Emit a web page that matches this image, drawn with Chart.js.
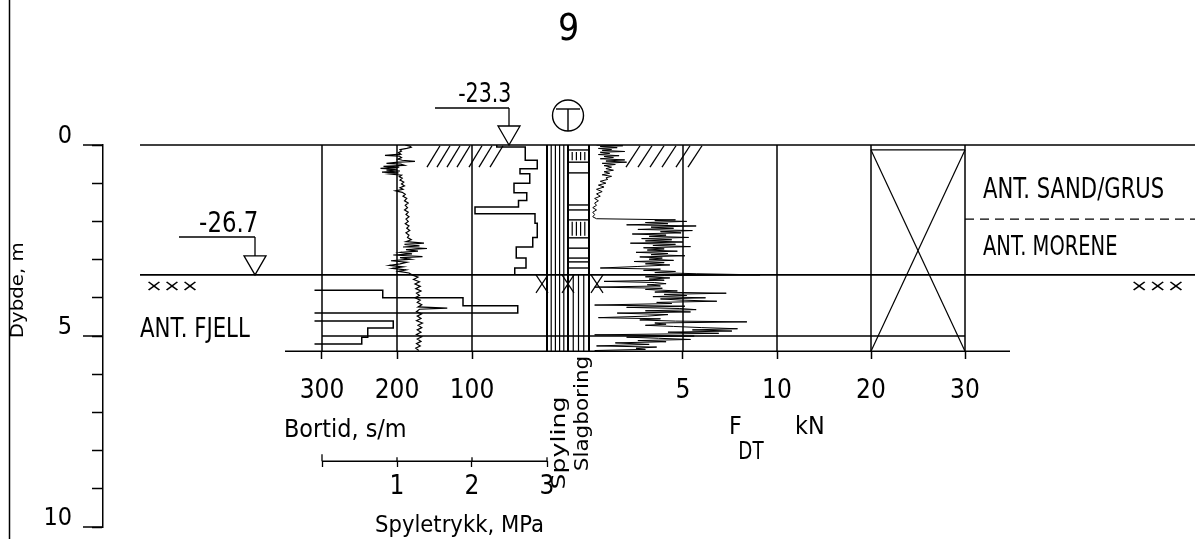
<!DOCTYPE html>
<html>
<head>
<meta charset="utf-8">
<script src="https://cdn.jsdelivr.net/npm/chart.js@4.4.1/dist/chart.umd.min.js"></script>
<style>
html,body{margin:0;padding:0;background:#fff;}
canvas{display:block;}
</style>
</head>
<body>
<canvas id="c" width="1195" height="539"></canvas>
<script>
// ---------------- DATA ----------------
const BORTID_TICKS = [300, 200, 100];
const SPYLE_TICKS = [0, 1, 2, 3];
const FDT_TICKS = [5, 10, 20, 30];
const DEPTH_TICKS = [0, 1, 2, 3, 4, 5, 6, 7, 8, 9, 10];
const DEPTH_LABELS = [0, 5, 10];

// Bortid (s/m), step log; null = break (off scale)
const bortidDepth = [0.00, 0.05, 0.40, 0.62, 0.75, 1.00, 1.25, 1.45, 1.62, 1.80, 2.05, 2.42, 2.67, 2.96, 3.22, 3.38,
                     null, 3.80, 3.80, 4.00, 4.21, 4.40, null, 4.61, 4.61, 4.79, 5.03, 5.21];
const bortidValue = [67, 29, 13, 36, 23, 44, 27, 38, 96, 16, 13, 19, 41, 28, 43, 43,
                     null, 310, 219, 112, 39, 310, null, 310, 205, 239, 247, 310];

// Spyletrykk (MPa)
const spyleDepth = [0.00,0.03,0.06,0.09,0.12,0.16,0.20,0.24,0.27,0.29,0.33,0.37,0.40,0.43,0.45,0.48,0.50,0.53,0.56,0.58,
  0.61,0.63,0.66,0.68,0.71,0.73,0.76,0.79,0.83,0.87,0.92,0.97,1.02,1.07,1.12,1.16,1.20,1.24,1.29,1.34,
  1.40,1.46,1.52,1.58,1.64,1.70,1.76,1.82,1.88,1.94,2.00,2.06,2.12,2.18,2.24,2.30,2.36,2.42,2.48,2.53,
  2.57,2.60,2.64,2.67,2.71,2.74,2.78,2.81,2.85,2.88,2.92,2.95,2.99,3.03,3.07,3.11,3.15,3.19,3.23,3.27,
  3.31,3.35,3.40,3.46,3.52,3.58,3.64,3.70,3.76,3.82,3.88,3.94,4.00,4.06,4.12,4.18,4.24,4.27,4.30,4.36,
  4.42,4.48,4.54,4.60,4.66,4.72,4.78,4.84,4.90,4.96,5.02,5.08,5.14,5.20,5.26,5.32,5.38];
const spyleValue = [1.11,1.17,1.19,1.13,1.04,1.06,1.02,1.05,0.84,1.03,1.06,1.01,1.07,1.24,1.02,0.86,1.05,1.10,0.82,1.03,
  0.78,1.00,0.86,1.04,0.80,1.02,0.90,1.06,1.03,1.07,1.04,1.09,1.06,1.10,1.04,1.08,0.98,1.07,1.11,1.08,
  1.13,1.10,1.15,1.11,1.14,1.10,1.15,1.12,1.16,1.12,1.15,1.11,1.16,1.13,1.17,1.12,1.16,1.14,1.19,1.12,
  1.36,1.10,1.30,1.08,1.40,1.12,1.28,1.05,1.20,0.95,1.34,1.04,1.18,0.92,1.13,1.04,0.90,1.08,0.94,1.12,
  1.02,1.16,1.20,1.28,1.22,1.30,1.24,1.31,1.25,1.32,1.26,1.30,1.24,1.31,1.27,1.33,1.28,1.67,1.30,1.26,
  1.33,1.27,1.32,1.26,1.34,1.28,1.33,1.27,1.32,1.26,1.33,1.27,1.32,1.26,1.31,1.25,1.29];

// F_DT (kN)
const fdtDepth = [0.00,0.02,0.04,0.07,0.09,0.12,0.14,0.17,0.19,0.22,0.25,0.28,0.30,0.33,0.36,0.39,0.42,0.45,0.48,0.51,
  0.54,0.58,0.62,0.66,0.70,0.74,0.78,0.82,0.86,0.90,0.95,1.00,1.05,1.10,1.16,1.22,1.28,1.34,1.40,1.46,
  1.52,1.58,1.64,1.70,1.76,1.82,1.88,1.93,1.96,1.98,2.00,2.03,2.06,2.09,2.12,2.15,2.18,2.21,2.24,2.27,
  2.30,2.33,2.36,2.39,2.42,2.45,2.48,2.51,2.54,2.57,2.60,2.63,2.66,2.69,2.72,2.75,2.78,2.81,2.84,2.87,
  2.90,2.93,2.96,2.99,3.02,3.05,3.08,3.11,3.14,3.18,3.22,3.25,3.28,3.31,3.34,3.37,3.40,3.42,3.45,3.48,
  3.51,3.54,3.57,3.60,3.63,3.66,3.69,3.72,3.75,3.78,3.82,3.85,3.88,3.91,3.94,3.97,4.00,4.03,4.06,4.09,
  4.12,4.15,4.19,4.22,4.25,4.28,4.31,4.34,4.37,4.40,4.44,4.48,4.52,4.55,4.58,4.61,4.63,4.66,4.69,4.72,
  4.75,4.78,4.81,4.84,4.87,4.90,4.93,4.97,5.00,5.03,5.06,5.09,5.12,5.15,5.18,5.22,5.26,5.29,5.32,5.35,5.38];
const fdtValue = [0.4,1.8,0.6,1.5,0.5,1.2,0.7,1.9,0.6,1.1,0.5,1.6,0.8,1.3,0.6,1.9,0.9,2.0,0.7,1.4,
  0.8,1.2,0.9,1.3,0.8,1.1,0.7,1.2,0.9,1.0,0.6,0.9,0.5,0.8,0.4,0.7,0.4,0.6,0.3,0.5,
  0.3,0.4,0.2,0.4,0.2,0.3,0.2,0.4,4.6,3.5,5.2,3.0,4.2,2.0,5.7,3.3,4.5,2.6,5.5,3.8,
  4.9,2.3,4.1,3.2,5.3,2.8,4.4,3.0,5.0,2.2,4.6,3.4,5.4,2.9,4.0,3.1,4.7,2.5,4.2,3.3,
  5.1,2.7,3.9,3.2,4.5,2.4,4.0,3.0,4.3,2.6,0.6,3.8,2.9,4.6,3.5,5.7,9.1,4.0,3.0,4.3,
  3.2,4.0,0.8,3.5,4.1,3.1,3.8,0.3,3.9,3.0,4.7,3.5,7.3,4.0,5.2,3.4,6.2,3.8,4.9,6.8,
  3.6,4.4,0.3,5.1,2.0,4.8,5.7,3.0,5.4,1.5,4.2,3.1,0.5,3.8,2.7,4.6,8.4,3.5,4.1,3.0,
  4.5,6.0,7.9,5.5,7.6,4.2,6.9,0.3,5.6,2.0,3.7,5.4,2.6,4.1,1.4,3.2,0.4,3.6,2.5,3.0,0.3];

// Column symbols (depths, m)
const slagLines = [0.13, 0.45, 0.73, 1.57, 1.70, 1.96, 2.43, 2.70, 2.96, 3.06, 3.22];
const slagHatch = [[0.13, 0.45], [1.96, 2.43]];
const ROCK_DEPTH = 3.4;
const SAND_MORENE_DEPTH = 1.94;
const STOP_DEPTH = 5.0;
const END_DEPTH = 5.4;
const SPYLE_AXIS_DEPTH = 8.28;
const LEVEL_TOP = '-23.3';
const LEVEL_ROCK = '-26.7';

// ---------------- broken F_DT scale (0-10 linear, 10-30 compressed) ----------------
const FDT_BREAK = 10, FDT_RATIO = 0.5;
const toV = v => v <= FDT_BREAK ? v : FDT_BREAK + (v - FDT_BREAK) * FDT_RATIO;
const fromV = u => u <= FDT_BREAK ? u : FDT_BREAK + (u - FDT_BREAK) / FDT_RATIO;
class BrokenLinearScale extends Chart.LinearScale {
  getPixelForValue(v) { return v === null || v === undefined ? NaN : super.getPixelForValue(toV(v)); }
  getValueForPixel(p) { return fromV(super.getValueForPixel(p)); }
}
BrokenLinearScale.id = 'brokenLinear';
BrokenLinearScale.defaults = Chart.LinearScale.defaults;
Chart.register(BrokenLinearScale);

const zip = (xs, ys) => xs.map((x, i) => ({x: x, y: ys[i]}));
const FONT = '"DejaVu Sans Condensed", "Liberation Sans Narrow", "DejaVu Sans", sans-serif';
const THIN_FONT = '"DejaVu Sans ExtraLight", "DejaVu Sans Condensed", "DejaVu Sans", sans-serif';

// ---------------- drawing helpers ----------------
function L(ctx, x1, y1, x2, y2, w) {
  ctx.lineWidth = w || 1.5;
  ctx.beginPath(); ctx.moveTo(x1, y1); ctx.lineTo(x2, y2); ctx.stroke();
}
function fitText(ctx, str, x0, x1, capTop, base) {
  const size = (base - capTop) / 0.729;
  ctx.font = size.toFixed(2) + 'px ' + THIN_FONT;
  const m = ctx.measureText(str);
  const inkW = m.actualBoundingBoxLeft + m.actualBoundingBoxRight;
  const sx = (x1 - x0) / inkW;
  ctx.save();
  ctx.translate(x0, base);
  ctx.scale(sx, 1);
  ctx.textAlign = 'left'; ctx.textBaseline = 'alphabetic';
  ctx.fillText(str, m.actualBoundingBoxLeft, 0);
  ctx.restore();
}
function fitTextUp(ctx, str, yBottom, yTop, capX, baseX) {
  ctx.save();
  ctx.translate(baseX, yBottom);
  ctx.rotate(-Math.PI / 2);
  fitText(ctx, str, 0, yBottom - yTop, -(baseX - capX), 0);
  ctx.restore();
}

const decor = {
  id: 'decor',
  afterDraw(chart) {
    const ctx = chart.ctx;
    const {y, xB, xS, xF} = chart.scales;
    const right = chart.chartArea.right;
    const Y = d => y.getPixelForValue(d);
    const B = v => xB.getPixelForValue(v);
    const S = v => xS.getPixelForValue(v);
    const F = v => xF.getPixelForValue(v);
    ctx.save();
    ctx.strokeStyle = '#000'; ctx.fillStyle = '#000';

    // page border
    L(ctx, 9.5, 0, 9.5, 539, 1.5);
    // long depth ticks
    DEPTH_LABELS.forEach(d => L(ctx, 83, Y(d), 103, Y(d), 1.5));

    // frame lines
    L(ctx, 140, Y(0), right, Y(0), 1.6);
    L(ctx, 140, Y(ROCK_DEPTH), right, Y(ROCK_DEPTH), 1.6);
    L(ctx, S(0), Y(STOP_DEPTH), F(30), Y(STOP_DEPTH), 1.4);
    L(ctx, 285, Y(END_DEPTH), 1010, Y(END_DEPTH), 1.6);
    ctx.setLineDash([9, 6]);
    L(ctx, F(30), Y(SAND_MORENE_DEPTH), right, Y(SAND_MORENE_DEPTH), 1.2);
    ctx.setLineDash([]);

    // bortid grid lines
    BORTID_TICKS.forEach(v => L(ctx, B(v), Y(0), B(v), Y(END_DEPTH), 1.5));
    // F grid lines
    [5, 10].forEach(v => L(ctx, F(v), Y(0), F(v), Y(END_DEPTH), 1.5));
    // 20-30 box with cross
    L(ctx, F(20), Y(0), F(20), Y(END_DEPTH), 1.5);
    L(ctx, F(30), Y(0), F(30), Y(END_DEPTH), 1.5);
    L(ctx, F(20), Y(0.13), F(30), Y(0.13), 1.2);
    L(ctx, F(20), Y(0.13), F(30), Y(END_DEPTH), 1.2);
    L(ctx, F(30), Y(0.13), F(20), Y(END_DEPTH), 1.2);

    // Spyling column
    const c0 = B(0), c2 = F(0), c1 = (c0 + c2) / 2;
    for (let k = 0; k <= 5; k++) {
      const xx = c0 + k * (c1 - c0) / 5;
      L(ctx, xx, Y(0), xx, Y(END_DEPTH), (k === 0 || k === 5) ? 2 : 1.2);
    }
    // Slagboring column
    L(ctx, c2, Y(0), c2, Y(END_DEPTH), 2);
    slagLines.forEach(d => L(ctx, c1, Y(d), c2, Y(d), 1.4));
    const w = c2 - c1;
    slagHatch.forEach(([a, b]) => {
      for (let k = 1; k <= 4; k++) {
        const xx = c1 + k * w / 5;
        L(ctx, xx, Y(a) + 2, xx, Y(b) - 2, 1.2);
      }
    });
    for (let k = 1; k <= 3; k++) {
      const xx = c1 + k * w / 4;
      L(ctx, xx, Y(ROCK_DEPTH), xx, Y(END_DEPTH), 1.2);
    }
    // X marks at rock surface
    [c0 - 5, c1, c2 + 8].forEach(cx => {
      L(ctx, cx - 6, Y(ROCK_DEPTH), cx + 6, Y(ROCK_DEPTH) + 18, 1.2);
      L(ctx, cx + 6, Y(ROCK_DEPTH), cx - 6, Y(ROCK_DEPTH) + 18, 1.2);
    });
    // circle T
    ctx.lineWidth = 1.4;
    ctx.beginPath(); ctx.arc(c1, 115.5, 15.5, 0, Math.PI * 2); ctx.stroke();
    L(ctx, c1 - 12, 109, c1 + 12, 109, 1.4);
    L(ctx, c1, 109, c1, 131, 1.4);

    // surface hatching
    [427, 437, 447, 457, 469, 479, 490].forEach(x => L(ctx, x, Y(0.58), x + 13, Y(0.02), 1.3));
    [626, 638, 650, 662, 676, 688].forEach(x => L(ctx, x, Y(0.58), x + 14, Y(0.02), 1.3));

    // level markers
    const tri = (x, yb) => {
      ctx.lineWidth = 1.3;
      ctx.beginPath(); ctx.moveTo(x - 11, yb - 19); ctx.lineTo(x + 11, yb - 19); ctx.lineTo(x, yb); ctx.closePath(); ctx.stroke();
    };
    L(ctx, 435, 108, 509, 108, 1.3); L(ctx, 509, 108, 509, Y(0) - 19, 1.3); tri(509, Y(0));
    L(ctx, 179, 237, 255, 237, 1.3); L(ctx, 255, 237, 255, Y(ROCK_DEPTH) - 19, 1.3); tri(255, Y(ROCK_DEPTH));

    // Spyletrykk axis line
    L(ctx, S(0), Y(SPYLE_AXIS_DEPTH), S(3), Y(SPYLE_AXIS_DEPTH), 1.4);
    SPYLE_TICKS.forEach(v => L(ctx, S(v), Y(SPYLE_AXIS_DEPTH) - (v === 0 ? 7 : 4), S(v), Y(SPYLE_AXIS_DEPTH), 1.3));

    // texts
    fitText(ctx, '9', 560, 577, 13, 40);
    fitText(ctx, LEVEL_TOP, 459, 510, 82, 102);
    fitText(ctx, LEVEL_ROCK, 200, 257, 211, 232);
    fitText(ctx, '×××', 148, 197, 279, 291);
    fitText(ctx, '×××', 1133, 1183, 279, 291);
    fitText(ctx, 'ANT. FJELL', 140, 250, 317, 337);
    fitText(ctx, 'ANT. SAND/GRUS', 983, 1163, 177, 198);
    fitText(ctx, 'ANT. MORENE', 983, 1117, 235, 255);
    fitText(ctx, 'Bortid, s/m', 286, 405, 419, 437);
    fitText(ctx, 'Spyletrykk, MPa', 376, 542, 515, 532);
    fitText(ctx, 'F', 731, 741, 416, 434);
    fitText(ctx, 'DT', 740, 764, 441, 459);
    fitText(ctx, 'kN', 797, 823, 416, 434);
    fitTextUp(ctx, 'Dybde, m', 337, 243, 10, 23);
    fitTextUp(ctx, 'Spyling', 488, 398, 551, 565);
    fitTextUp(ctx, 'Slagboring', 470, 357, 574, 588);
    ctx.restore();
  }
};

const tickFont = {family: FONT, size: 26};
new Chart(document.getElementById('c'), {
  type: 'scatter',
  data: {
    datasets: [
      {label: 'Bortid', xAxisID: 'xB', yAxisID: 'y', data: zip(bortidValue, bortidDepth),
       showLine: true, stepped: 'after', spanGaps: false, borderColor: '#000', borderWidth: 1.5, pointRadius: 0},
      {label: 'Spyletrykk', xAxisID: 'xS', yAxisID: 'y', data: zip(spyleValue, spyleDepth),
       showLine: true, borderColor: '#000', borderWidth: 1.2, pointRadius: 0},
      {label: 'F_DT', xAxisID: 'xF', yAxisID: 'y', data: zip(fdtValue, fdtDepth),
       showLine: true, borderColor: '#000', borderWidth: 1, pointRadius: 0}
    ]
  },
  options: {
    responsive: false, animation: false, devicePixelRatio: 1,
    layout: {padding: {top: 145, bottom: 12, left: 0, right: 0}},
    plugins: {legend: {display: false}, tooltip: {enabled: false}},
    scales: {
      y: {
        type: 'linear', position: 'left', reverse: true, min: 0, max: 10,
        afterFit(s) { s.width = 103; s.paddingTop = 0; s.paddingBottom = 0; },
        afterBuildTicks(s) { s.ticks = DEPTH_TICKS.map(v => ({value: v})); },
        ticks: {autoSkip: false, padding: 20, labelOffset: -9, color: '#000', font: {family: FONT, size: 25},
                callback: v => DEPTH_LABELS.includes(v) ? String(v) : ''},
        grid: {drawOnChartArea: false, tickLength: 11, color: '#000', tickWidth: 1.5},
        border: {color: '#000', width: 1.5}
      },
      xB: {
        type: 'linear', position: {y: END_DEPTH}, reverse: true, min: -864, max: 592,
        afterFit(s) { s.paddingLeft = 0; s.paddingRight = 0; },
        afterBuildTicks(s) { s.ticks = BORTID_TICKS.map(v => ({value: v})); },
        ticks: {autoSkip: false, maxRotation: 0, padding: 16, color: '#000', font: tickFont, callback: v => String(v)},
        grid: {drawOnChartArea: false, tickLength: 8, color: '#000', tickWidth: 1.5},
        border: {display: false}
      },
      xS: {
        type: 'linear', position: {y: SPYLE_AXIS_DEPTH}, min: -2.92, max: 11.64,
        afterFit(s) { s.paddingLeft = 0; s.paddingRight = 0; },
        afterBuildTicks(s) { s.ticks = SPYLE_TICKS.map(v => ({value: v})); },
        ticks: {autoSkip: false, maxRotation: 0, padding: 4, color: '#000', font: tickFont, callback: v => v === 0 ? '' : String(v)},
        grid: {drawOnChartArea: false, tickLength: 6, color: '#000', tickWidth: 1.3},
        border: {display: false}
      },
      xF: {
        type: 'brokenLinear', position: {y: END_DEPTH}, min: -25.851, max: 32.234,
        afterFit(s) { s.paddingLeft = 0; s.paddingRight = 0; },
        afterBuildTicks(s) { s.ticks = FDT_TICKS.map(v => ({value: v})); },
        ticks: {autoSkip: false, maxRotation: 0, padding: 16, color: '#000', font: tickFont, callback: v => String(v)},
        grid: {drawOnChartArea: false, tickLength: 8, color: '#000', tickWidth: 1.5},
        border: {display: false}
      }
    }
  },
  plugins: [decor]
});
</script>
</body>
</html>
